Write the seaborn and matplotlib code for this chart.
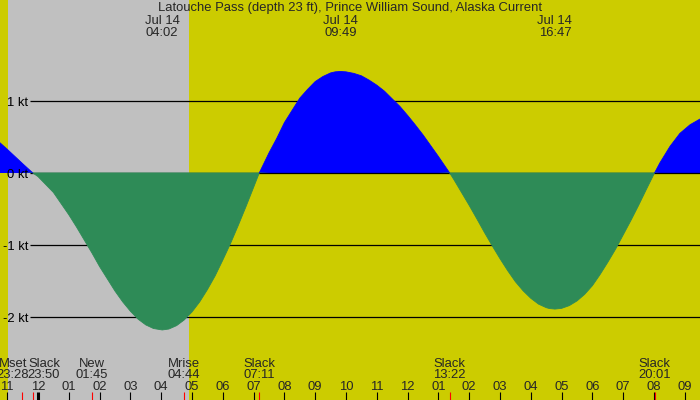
import numpy as np
import pandas as pd
import matplotlib
matplotlib.use("Agg")
import matplotlib.pyplot as plt
import seaborn as sns

# ---------------- data ----------------
title = "Latouche Pass (depth 23 ft), Prince William Sound, Alaska Current"

# hours relative to Jul 14 00:00, current speed in knots
hours = [-1.234, -1.0, -0.5, -0.1667, 0.0, 0.5, 1.0, 1.25, 1.5, 1.75, 2.0,
         2.25, 2.5, 2.75, 3.0, 3.25, 3.5, 3.75, 4.0333, 4.25, 4.5, 4.75, 5.0,
         5.25, 5.5, 5.75, 6.0, 6.25, 6.5, 6.75, 7.0, 7.1833, 7.5, 7.75, 8.0,
         8.25, 8.5, 8.75, 9.0, 9.25, 9.5, 9.65, 9.8167, 10.0, 10.25, 10.5,
         10.75, 11.0, 11.25, 11.5, 11.75, 12.0, 12.25, 12.5, 12.75, 13.0,
         13.3667, 13.5, 14.0, 14.25, 14.5, 14.75, 15.0, 15.25, 15.5, 15.75,
         16.0, 16.25, 16.5, 16.6, 16.7833, 17.0, 17.25, 17.5, 17.75, 18.0,
         18.25, 18.5, 18.75, 19.0, 19.25, 19.5, 19.75, 20.0167, 20.19, 20.52,
         20.84, 21.17, 21.494]
speed_kt = [0.42, 0.33, 0.13, 0.0, -0.05, -0.27, -0.58, -0.75, -0.93, -1.11,
            -1.30, -1.47, -1.64, -1.79, -1.92, -2.03, -2.11, -2.16, -2.18,
            -2.167, -2.12, -2.04, -1.93, -1.79, -1.62, -1.43, -1.21, -0.98,
            -0.73, -0.47, -0.20, 0.0, 0.28, 0.48, 0.70, 0.87, 1.04, 1.16, 1.27,
            1.34, 1.39, 1.405, 1.41, 1.405, 1.384, 1.35, 1.29, 1.22, 1.136,
            1.03, 0.925, 0.80, 0.668, 0.53, 0.38, 0.23, 0.0, -0.09, -0.45,
            -0.638, -0.83, -1.013, -1.19, -1.357, -1.51, -1.636, -1.74, -1.821,
            -1.87, -1.882, -1.89, -1.88, -1.842, -1.777, -1.685, -1.565, -1.41,
            -1.24, -1.06, -0.86, -0.66, -0.45, -0.23, 0.0, 0.14, 0.37, 0.55,
            0.67, 0.75]

peak_dates = ["Jul 14", "Jul 14", "Jul 14"]
peak_times = ["04:02", "09:49", "16:47"]

event_names = ["Mset", "Slack", "New", "Mrise", "Slack", "Slack", "Slack"]
event_times = ["23:28", "23:50", "01:45", "04:44", "07:11", "13:22", "20:01"]
event_days = [-1, -1, 0, 0, 0, 0, 0]

night_start = ("23:02", -1)
night_end = ("04:54", 0)

hour_ticks = list(range(-1, 22))
hour_labels = ["11", "12", "01", "02", "03", "04", "05", "06", "07", "08",
               "09", "10", "11", "12", "01", "02", "03", "04", "05", "06",
               "07", "08", "09"]

y_ticks = [1, 0, -1, -2]
y_labels = ["1 kt", "0 kt", "-1 kt", "-2 kt"]

# ---------------- layout / style ----------------
W, H = 700, 400
PX_PER_HR = 30.8
X0_PX = 38.0          # pixel column of midnight
PX_PER_KT = 72.0
Y0_PX = 173.0         # pixel row of 0 kt

YELLOW = "#CCCC00"
GREY = "#C0C0C0"
BLUE = "#0000FF"
GREEN = "#2E8B57"

label_shift_px = [-9, 11, 0, 0, 0, 0, 0]

xmin = -X0_PX / PX_PER_HR
xmax = (W - X0_PX) / PX_PER_HR
ymax = Y0_PX / PX_PER_KT
ymin = (Y0_PX - H) / PX_PER_KT


def xpx(p):
    return xmin + p / PX_PER_HR


def ypx(p):
    return (Y0_PX - p) / PX_PER_KT


def hhmm(s, day=0):
    h, m = map(int, s.split(":"))
    return day * 24 + h + m / 60.0


sns.set_style("white")
plt.rcParams["font.family"] = ["Liberation Sans", "DejaVu Sans"]
FS = 9.4

fig = plt.figure(figsize=(W / 100, H / 100), dpi=100)
fig.patch.set_facecolor(YELLOW)
ax = fig.add_axes([0, 0, 1, 1])
ax.set_facecolor(YELLOW)

# night shading
ax.axvspan(hhmm(*night_start), hhmm(*night_end), color=GREY, lw=0, zorder=0)

# grid lines
for v in y_ticks:
    ax.hlines(v, xpx(30), xmax, color="black", lw=0.9,
              zorder=2.5 if v == 0 else 1)

h = np.array(hours)
s = np.array(speed_kt)
ax.fill_between(h, 0, np.maximum(s, 0), color=BLUE, lw=0, zorder=2)
ax.fill_between(h, 0.007, np.minimum(s, 0.007), color=GREEN, lw=0, zorder=3)

# outline via seaborn, one run per flood/ebb
rows, run = [], 0
for i, (hh, ss) in enumerate(zip(hours, speed_kt)):
    rows.append((hh, ss, f"r{run}"))
    if ss == 0 and 0 < i < len(hours) - 1:
        run += 1
        rows.append((hh, ss, f"r{run}"))
seg = pd.DataFrame(rows, columns=["hours", "speed", "run"])
sums = seg.groupby("run")["speed"].sum()
palette = {r: (BLUE if v > 0 else GREEN) for r, v in sums.items()}
sns.lineplot(data=seg, x="hours", y="speed", hue="run", palette=palette,
             estimator=None, sort=False, legend=False, lw=0.6, ax=ax,
             zorder=3.5)
ax.set_xlim(xmin, xmax)
ax.set_ylim(ymin, ymax)
ax.axis("off")

# y labels
for v, lab in zip(y_ticks, y_labels):
    ax.text(xpx(28), v - 5 / PX_PER_KT, lab, ha="right", va="baseline",
            fontsize=FS, color="black", zorder=5)

# title and peak labels
ax.text(xpx(350), ypx(11), title, ha="center", va="baseline", fontsize=FS,
        zorder=5)
for d, t in zip(peak_dates, peak_times):
    x = hhmm(t)
    ax.text(x, ypx(24), d, ha="center", va="baseline", fontsize=FS, zorder=5)
    ax.text(x, ypx(36), t, ha="center", va="baseline", fontsize=FS, zorder=5)

# hour ticks and labels
for hr, lab in zip(hour_ticks, hour_labels):
    ax.vlines(hr, ypx(400), ypx(392), color="black",
              lw=2.2 if hr == 0 else 0.8, zorder=5)
    ax.text(hr, ypx(390), lab, ha="center", va="baseline", fontsize=FS,
            zorder=5)

# events
for name, t, d, sh in zip(event_names, event_times, event_days, label_shift_px):
    x = hhmm(t, d)
    ax.vlines(x, ypx(400), ypx(392), color="red", lw=0.8, zorder=6)
    ax.text(x + sh / PX_PER_HR, ypx(366.7), name, ha="center", va="baseline",
            fontsize=FS, zorder=5)
    ax.text(x + sh / PX_PER_HR, ypx(377.7), t, ha="center", va="baseline",
            fontsize=FS, zorder=5)

fig.savefig("out.png", dpi=100, facecolor=YELLOW)
